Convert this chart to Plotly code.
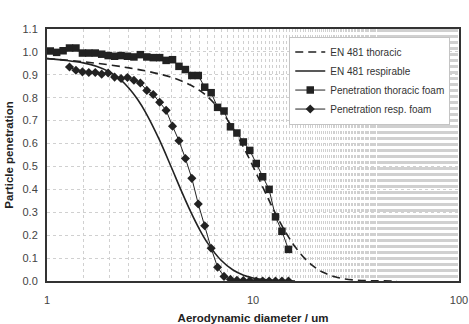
import plotly.graph_objects as go

# EN 481 conventions (values read/tabulated)
thor_d = [1, 1.5, 2, 2.5, 3, 3.5, 4, 4.5, 5, 5.5, 6, 7, 8, 9, 10, 11, 12, 13, 14, 15, 16,
          18, 20, 22, 25, 28, 32, 36, 40, 50]
thor_p = [0.971, 0.957, 0.9435, 0.9303, 0.9173, 0.9039, 0.8896, 0.8733, 0.8542, 0.8318,
          0.8055, 0.7416, 0.6657, 0.5833, 0.5003, 0.4213, 0.3494, 0.2863, 0.2323, 0.1870,
          0.1496, 0.0946, 0.0592, 0.0369, 0.0182, 0.0090, 0.0036, 0.0015, 0.0006, 0.0001]

resp_d = [1, 1.25, 1.5, 1.75, 2, 2.25, 2.5, 2.75, 3, 3.5, 4, 4.5, 5, 5.5, 6, 7, 8, 9, 10,
          11, 12, 13, 14, 15, 16]
resp_p = [0.9707, 0.9627, 0.9521, 0.9366, 0.9137, 0.8822, 0.8417, 0.7932, 0.7385, 0.6192,
          0.4997, 0.3914, 0.2997, 0.2256, 0.1677, 0.0905, 0.0481, 0.0254, 0.0135,
          0.0072, 0.0039, 0.0021, 0.0012, 0.0007, 0.0003]

# Measured penetration (APS channels)
thfoam_d = [1.037, 1.114, 1.197, 1.286, 1.382, 1.486, 1.596, 1.715, 1.843, 1.981, 2.129,
            2.288, 2.458, 2.642, 2.839, 3.051, 3.278, 3.523, 3.786, 4.068, 4.371, 4.698,
            5.048, 5.425, 5.829, 6.264, 6.732, 7.234, 7.774, 8.354, 8.977, 9.647, 10.37,
            11.14, 11.97, 12.86, 13.82, 14.86]
thfoam_p = [1.004, 0.998, 1.005, 1.017, 1.017, 0.995, 0.995, 0.995, 0.990, 0.984, 0.981,
            0.984, 0.981, 0.978, 0.988, 0.978, 0.975, 0.975, 0.963, 0.966, 0.937, 0.923,
            0.897, 0.897, 0.846, 0.822, 0.758, 0.742, 0.673, 0.646, 0.607, 0.570, 0.513,
            0.455, 0.400, 0.280, 0.217, 0.138]

rsfoam_d = [1.286, 1.382, 1.486, 1.596, 1.715, 1.843, 1.981, 2.129, 2.288, 2.458, 2.642,
            2.839, 3.051, 3.278, 3.523, 3.786, 4.068, 4.371, 4.698, 5.048, 5.425, 5.829,
            6.264, 6.732, 7.234, 7.774, 8.354, 8.977, 9.647, 10.37, 11.14, 11.97, 12.86,
            13.82, 14.86]
rsfoam_p = [0.934, 0.920, 0.913, 0.910, 0.910, 0.903, 0.908, 0.890, 0.884, 0.888, 0.876,
            0.864, 0.832, 0.814, 0.780, 0.745, 0.676, 0.612, 0.535, 0.448, 0.336, 0.241,
            0.143, 0.060, 0.020, 0.007, 0.003, 0.002, 0.001, 0.0, 0.0, 0.0, 0.0, 0.0, 0.0]

y_ticks = [0.0, 0.1, 0.2, 0.3, 0.4, 0.5, 0.6, 0.7, 0.8, 0.9, 1.0, 1.1]
x_ticks = [1, 10, 100]

ink = "#222222"
fig = go.Figure()
fig.add_trace(go.Scatter(x=thor_d, y=thor_p, mode="lines", name="EN 481 thoracic",
                         line=dict(color=ink, width=1.6, dash="8px,5px", shape="spline")))
fig.add_trace(go.Scatter(x=resp_d, y=resp_p, mode="lines", name="EN 481 respirable",
                         line=dict(color=ink, width=1.6, shape="spline")))
fig.add_trace(go.Scatter(x=thfoam_d, y=thfoam_p, mode="lines+markers",
                         name="Penetration thoracic foam",
                         line=dict(color=ink, width=1),
                         marker=dict(symbol="square", size=7.5, color=ink)))
fig.add_trace(go.Scatter(x=rsfoam_d, y=rsfoam_p, mode="lines+markers",
                         name="Penetration resp. foam",
                         line=dict(color=ink, width=1),
                         marker=dict(symbol="diamond", size=7, color=ink)))

fig.update_layout(
    width=469, height=324,
    margin=dict(l=47, r=10, t=29, b=43),
    paper_bgcolor="white", plot_bgcolor="white",
    font=dict(family="Liberation Sans, Arial, sans-serif", color="#333333", size=11),
    showlegend=True,
    legend=dict(x=0.588, y=0.97, xanchor="left", yanchor="top",
                bgcolor="white", bordercolor="#c4c4c4", borderwidth=1,
                font=dict(size=10, color="#333333"),
                itemwidth=30, tracegroupgap=0),
)
fig.update_xaxes(
    type="log", range=[0, 2], automargin=False, ticklabeloverflow="allow",
    tickvals=x_ticks, ticktext=[str(v) for v in x_ticks],
    ticks="", showline=True, linecolor="#333333", linewidth=2, mirror=True,
    showgrid=True, gridcolor="#d0d0d0", griddash="dot", gridwidth=1,
    minor=dict(showgrid=True, gridcolor="#d0d0d0", griddash="dot", gridwidth=1,
               ticks=""),
    tickfont=dict(size=11, color="#444444"), zeroline=False, ticklabelstandoff=8,
    title=dict(text="<b>Aerodynamic diameter / um</b>", font=dict(size=11.5, color="#222222"),
               standoff=14),
)
fig.update_yaxes(
    range=[0, 1.1], tickvals=y_ticks, ticktext=[f"{v:.1f}" for v in y_ticks],
    automargin=False, ticklabeloverflow="allow",
    ticks="", showline=True, linecolor="#333333", linewidth=2, mirror=True,
    showgrid=True, gridcolor="#d0d0d0", griddash="dot", gridwidth=1,
    tickfont=dict(size=11, color="#444444"), zeroline=False, ticklabelstandoff=5,
    title=dict(text="<b>Particle penetration</b>", font=dict(size=11.5, color="#222222"),
               standoff=6),
)

fig.write_html("out.html")
